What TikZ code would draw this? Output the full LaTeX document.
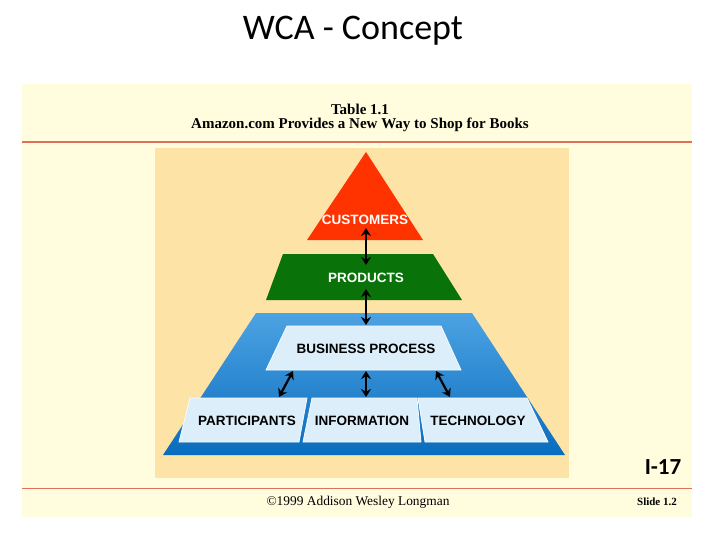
\documentclass[tikz,border=0pt]{standalone}
\usepackage{fontspec}
\setmainfont{Liberation Serif}
\setsansfont{Liberation Sans}
\newfontfamily\calibri{Carlito}
\usetikzlibrary{positioning,arrows.meta,calc}

\definecolor{slidebg}{HTML}{FFFDDE}
\definecolor{rule}{HTML}{E0705A}
\definecolor{panel}{HTML}{FDE3A6}
\definecolor{custred}{HTML}{FF3300}
\definecolor{prodgreen}{HTML}{097309}
\definecolor{bluetop}{HTML}{4CA3E3}
\definecolor{bluebot}{HTML}{0A6CBD}
\definecolor{tilefill}{HTML}{DCEEFA}

\tikzset{
  whitelabel/.style={font=\sffamily\bfseries\fontsize{13.5}{14}\selectfont, text=white, inner sep=0pt},
  blacklabel/.style={font=\sffamily\bfseries\fontsize{13.5}{14}\selectfont, text=black, inner sep=0pt},
  tile/.style={fill=tilefill, draw=white!80!tilefill, line width=0.8pt},
  link/.style={{Stealth[length=8pt,width=10pt]}-{Stealth[length=8pt,width=10pt]}, line width=2.2pt, black}
}

\begin{document}
\begin{tikzpicture}[x=1pt, y=-1pt]
    \useasboundingbox (0,0) rectangle (720,540);
    \fill[white] (0,0) rectangle (720,540);

    % slide
    \fill[slidebg] (22,84) rectangle (692,517);
    \draw[rule, line width=1.6pt] (22,142) -- (692,142);
    \draw[rule, line width=0.9pt] (22,488) -- (692,488);
    \node[font=\calibri\fontsize{36}{40}\selectfont] (title) at (353,31) {WCA - Concept};
    \node[font=\bfseries\fontsize{15}{16}\selectfont, align=center] (caption) at (360,118)
      {Table 1.1\\[-2pt]Amazon.com Provides a New Way to Shop for Books};
    \node[font=\fontsize{13.4}{14}\selectfont] (copy) at (358,502) {\textcopyright1999 Addison Wesley Longman};
    \node[font=\bfseries\fontsize{11}{12}\selectfont] (slide) at (657,502) {Slide 1.2};
    \node[font=\calibri\bfseries\fontsize{23}{24}\selectfont] (page) at (663,467) {I-17};

    % pyramid
    \fill[panel] (155,148) rectangle (569,478);
    \fill[custred] (366,152) -- (423,240) -- (307,240) -- cycle;
    \fill[prodgreen] (283,254) -- (433,254) -- (462,300) -- (266,300) -- cycle;
    \shade[top color=bluetop, bottom color=bluebot] (256,313) -- (472,313) -- (565,455) -- (163,455) -- cycle;
    \draw[tile] (287,326) -- (441,326) -- (461,370) -- (266,370) -- cycle;
    \draw[tile] (190,398) -- (307,398) -- (299,442) -- (179,442) -- cycle;
    \draw[tile] (312,398) -- (417,398) -- (421,442) -- (303,442) -- cycle;
    \draw[tile] (418,398) -- (527,398) -- (548,442) -- (425,442) -- cycle;

    \node[whitelabel] (customers) at (365,220) {CUSTOMERS};
    \node[whitelabel] (products) at (366,278) {PRODUCTS};
    \node[blacklabel] (process) at (366,349) {BUSINESS PROCESS};
    \node[blacklabel] (participants) at (247,421) {PARTICIPANTS};
    \node[blacklabel] (information) at (362,421) {INFORMATION};
    \node[blacklabel] (technology) at (478,421) {TECHNOLOGY};

    \coordinate (c1) at (366,228);
    \coordinate (c2) at (366,265);
    \coordinate (c3) at (366,289);
    \coordinate (c4) at (366,325);
    \coordinate (b1) at (293,371);
    \coordinate (b2) at (366,371);
    \coordinate (b3) at (436,371);
    \coordinate (t1) at (279,397);
    \coordinate (t2) at (366,397);
    \coordinate (t3) at (450,397);

    \draw[link] (c1) -- (c2);
    \draw[link] (c3) -- (c4);
    \draw[link] (b1) -- (t1);
    \draw[link] (b2) -- (t2);
    \draw[link] (b3) -- (t3);
\end{tikzpicture}
\end{document}
